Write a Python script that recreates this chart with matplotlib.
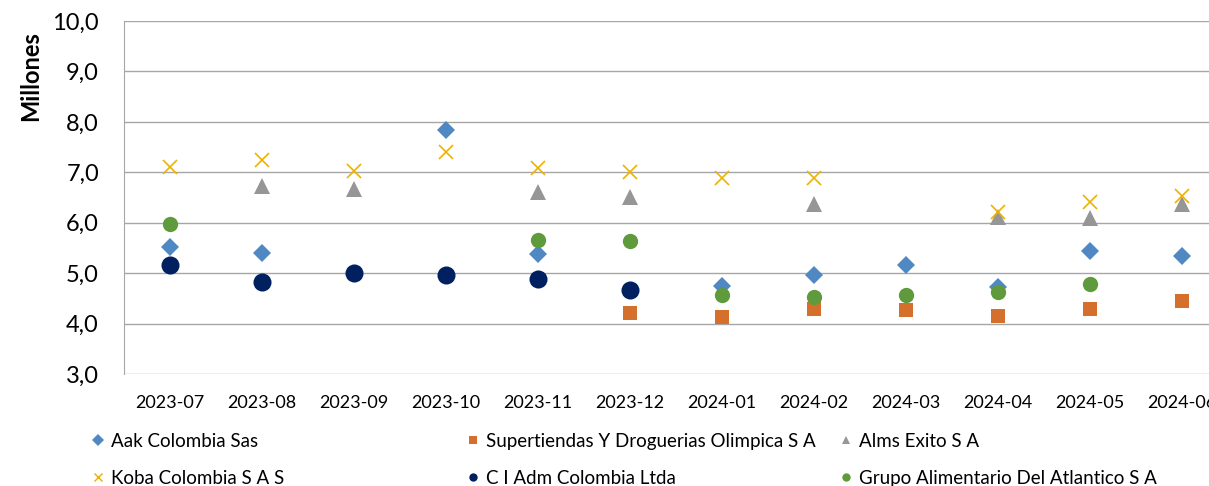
import matplotlib.pyplot as plt
from matplotlib.ticker import FuncFormatter
from matplotlib.lines import Line2D
import numpy as np

meses = ['2023-07', '2023-08', '2023-09', '2023-10', '2023-11', '2023-12',
         '2024-01', '2024-02', '2024-03', '2024-04', '2024-05', '2024-06']

nan = np.nan
aak = [5.52, 5.40, nan, 7.84, 5.38, nan, 4.75, 4.96, 5.16, 4.73, 5.44, 5.34]
olimpica = [nan, nan, nan, nan, nan, 4.21, 4.13, 4.29, 4.27, 4.15, 4.29, 4.45]
exito = [nan, 6.73, 6.67, nan, 6.61, 6.51, nan, 6.37, nan, 6.12, 6.10, 6.37]
koba = [7.11, 7.25, 7.03, 7.40, 7.09, 7.01, 6.89, 6.89, nan, 6.21, 6.41, 6.53]
ci_adm = [5.16, 4.83, 5.01, 4.96, 4.88, 4.67, nan, nan, nan, nan, nan, nan]
grupo = [5.98, nan, nan, nan, 5.66, 5.64, 4.57, 4.53, 4.57, 4.63, 4.79, nan]

series = [
    ('Aak Colombia Sas', aak, 'D', '#4F88C2', 9.5),
    ('Supertiendas Y Droguerias Olimpica S A', olimpica, 's', '#D4702C', 10),
    ('Alms Exito S A', exito, '^', '#969696', 11),
    ('Koba Colombia S A S', koba, 'x', '#EDB100', 10),
    ('C I Adm Colombia Ltda', ci_adm, 'o', '#002060', 13),
    ('Grupo Alimentario Del Atlantico S A', grupo, 'o', '#5F9A3C', 11),
]

plt.rcParams['font.family'] = ['Lato', 'DejaVu Sans']

fig = plt.figure(figsize=(12.09, 4.86), dpi=100)
ax = fig.add_axes([124 / 1209, 112 / 486, 1104 / 1209, 353 / 486])

x = np.arange(len(meses))
handles = []
for nombre, vals, mk, col, ms in series:
    ax.plot(x, vals, linestyle='none', marker=mk, color=col, markersize=ms,
            markeredgewidth=1.2 if mk == 'x' else 0)
    handles.append(Line2D([], [], linestyle='none', marker=mk, color=col,
                          markersize=6, markeredgewidth=1 if mk == 'x' else 0,
                          label=nombre))

ax.set_xlim(-0.5, len(meses) - 0.5)
ax.set_ylim(3, 10)
ax.set_yticks(np.arange(3, 10.5, 1))
ax.yaxis.set_major_formatter(FuncFormatter(lambda v, p: f'{v:.1f}'.replace('.', ',')))
ax.set_xticks(x)
ax.set_xticklabels(meses)
ax.tick_params(axis='y', length=0, labelsize=17, pad=18)
ax.tick_params(axis='x', length=0, labelsize=13, pad=15)
ax.grid(axis='y', color='#A6A6A6', linewidth=1)
ax.set_axisbelow(True)
for s in ['top', 'right', 'bottom']:
    ax.spines[s].set_visible(False)
ax.spines['left'].set_color('#A6A6A6')

fig.text(31 / 1209, 1 - 76 / 486, 'Millones', rotation=90, ha='center', va='center',
         fontsize=17, fontweight='bold')

# leyenda en tres columnas de ancho fijo como en Excel
columnas = [(handles[0], handles[3]), (handles[1], handles[4]), (handles[2], handles[5])]
x_cols = [89, 464, 837]
for hs, xc in zip(columnas, x_cols):
    fig.legend(handles=list(hs), loc='upper left', bbox_to_anchor=(xc / 1209, 1 - 433 / 486),
               frameon=False, fontsize=13.5, handletextpad=0.15, handlelength=1.0,
               labelspacing=1.05, borderaxespad=0, borderpad=0)

fig.savefig('out.png', dpi=100)
